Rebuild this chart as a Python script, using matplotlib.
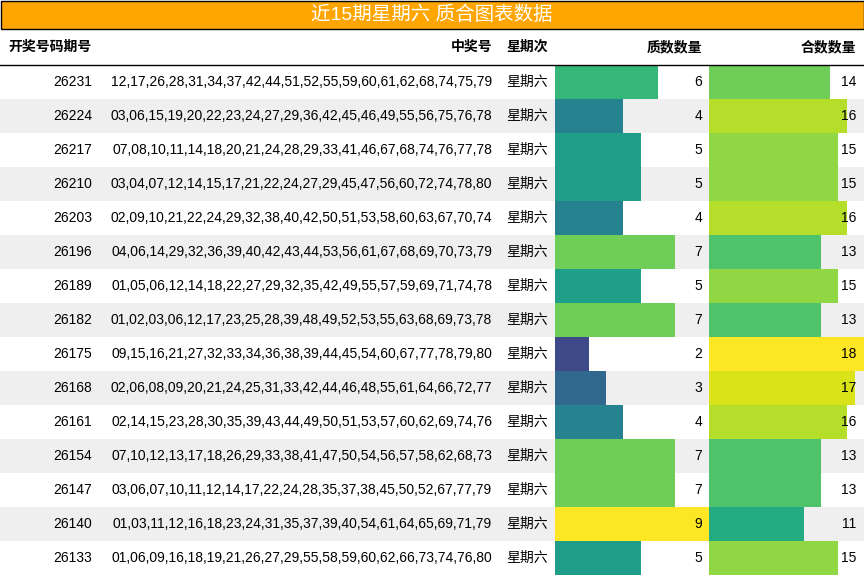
import matplotlib
matplotlib.use("Agg")
import matplotlib.pyplot as plt
from matplotlib.patches import Rectangle
from matplotlib import colormaps

plt.rcParams['font.family'] = ['Liberation Sans', 'Noto Sans CJK SC', 'DejaVu Sans']

title = "近15期星期六 质合图表数据"
headers = ["开奖号码期号", "中奖号", "星期次", "质数数量", "合数数量"]
issues = ["26231","26224","26217","26210","26203","26196","26189","26182","26175","26168","26161","26154","26147","26140","26133"]
numbers = [
"12,17,26,28,31,34,37,42,44,51,52,55,59,60,61,62,68,74,75,79",
"03,06,15,19,20,22,23,24,27,29,36,42,45,46,49,55,56,75,76,78",
"07,08,10,11,14,18,20,21,24,28,29,33,41,46,67,68,74,76,77,78",
"03,04,07,12,14,15,17,21,22,24,27,29,45,47,56,60,72,74,78,80",
"02,09,10,21,22,24,29,32,38,40,42,50,51,53,58,60,63,67,70,74",
"04,06,14,29,32,36,39,40,42,43,44,53,56,61,67,68,69,70,73,79",
"01,05,06,12,14,18,22,27,29,32,35,42,49,55,57,59,69,71,74,78",
"01,02,03,06,12,17,23,25,28,39,48,49,52,53,55,63,68,69,73,78",
"09,15,16,21,27,32,33,34,36,38,39,44,45,54,60,67,77,78,79,80",
"02,06,08,09,20,21,24,25,31,33,42,44,46,48,55,61,64,66,72,77",
"02,14,15,23,28,30,35,39,43,44,49,50,51,53,57,60,62,69,74,76",
"07,10,12,13,17,18,26,29,33,38,41,47,50,54,56,57,58,62,68,73",
"03,06,07,10,11,12,14,17,22,24,28,35,37,38,45,50,52,67,77,79",
"01,03,11,12,16,18,23,24,31,35,37,39,40,54,61,64,65,69,71,79",
"01,06,09,16,18,19,21,26,27,29,55,58,59,60,62,66,73,74,76,80",
]
weekday = "星期六"
primes = [6,4,5,5,4,7,5,7,2,3,4,7,7,9,5]
composites = [14,16,15,15,16,13,15,13,18,17,16,13,13,11,15]

W, H = 864, 576
fig = plt.figure(figsize=(8.64, 5.76), dpi=100)
ax = fig.add_axes([0, 0, 1, 1])
ax.set_xlim(0, W); ax.set_ylim(H, 0); ax.axis('off')

# title bar
ax.add_patch(Rectangle((0.5, 0.5), W - 1, 28, facecolor='#ffa500', edgecolor='black', lw=1))
ax.text(W / 2, 15, title, color='white', fontsize=14, ha='center', va='center')

hy = 47
fs = 10
ax.text(8, hy, headers[0], fontsize=fs, weight='bold', ha='left', va='center')
ax.text(492, hy, headers[1], fontsize=fs, weight='bold', ha='right', va='center')
ax.text(527, hy, headers[2], fontsize=fs, weight='bold', ha='center', va='center')
ax.text(702, hy, headers[3], fontsize=fs, weight='bold', ha='right', va='center')
ax.text(856, hy, headers[4], fontsize=fs, weight='bold', ha='right', va='center')
ax.plot([0, W], [64.5, 64.5], color='black', lw=1)

cmap = colormaps['viridis']
pmax, cmax = max(primes), max(composites)
px0, pw = 555, 154
cx0, cw = 709, 155
rh = 34
for i in range(len(issues)):
    y0 = 65 + i * rh
    yc = y0 + rh / 2
    if i % 2 == 1:
        ax.add_patch(Rectangle((0, y0), W, rh, facecolor='#efefef', lw=0))
    ax.add_patch(Rectangle((px0, y0), pw * primes[i] / pmax, rh, facecolor=cmap(primes[i] / pmax), lw=0))
    ax.add_patch(Rectangle((cx0, y0), cw * composites[i] / cmax, rh, facecolor=cmap(composites[i] / cmax), lw=0))
    ax.text(92, yc, issues[i], fontsize=fs, ha='right', va='center')
    ax.text(492, yc, numbers[i], fontsize=fs, ha='right', va='center')
    ax.text(527, yc, weekday, fontsize=fs, ha='center', va='center')
    ax.text(702, yc, str(primes[i]), fontsize=fs, ha='right', va='center')
    ax.text(856, yc, str(composites[i]), fontsize=fs, ha='right', va='center')

fig.savefig("out.png", dpi=100)
